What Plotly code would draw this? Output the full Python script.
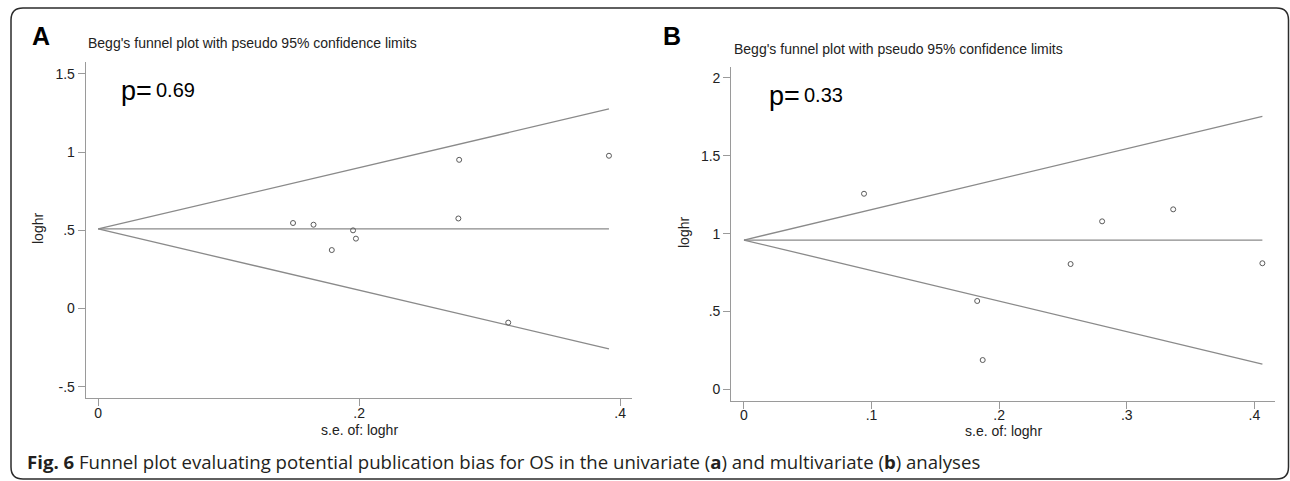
import plotly.graph_objects as go

W, H = 1290, 481

# ---------------- data ----------------
# Panel A (univariate)
se_a = [0.1493, 0.165, 0.179, 0.1953, 0.1975, 0.2766, 0.276, 0.3142, 0.3914]
loghr_a = [0.546, 0.535, 0.373, 0.499, 0.446, 0.950, 0.575, -0.091, 0.976]
funnel_se_a = [0.0, 0.3914]
funnel_mid_a = [0.508, 0.508]
funnel_up_a = [0.508, 1.275]
funnel_lo_a = [0.508, -0.259]
p_a = "0.69"

# Panel B (multivariate)
se_b = [0.0941, 0.1828, 0.1871, 0.256, 0.2807, 0.3364, 0.4063]
loghr_b = [1.256, 0.568, 0.189, 0.805, 1.079, 1.156, 0.810]
funnel_se_b = [0.0, 0.4063]
funnel_mid_b = [0.959, 0.959]
funnel_up_b = [0.959, 1.753]
funnel_lo_b = [0.959, 0.163]
p_b = "0.33"

xticks_a = [0, 0.2, 0.4]
xticklabels_a = ["0", ".2", ".4"]
yticks_a = [-0.5, 0, 0.5, 1, 1.5]
yticklabels_a = ["-.5", "0", ".5", "1", "1.5"]
xticks_b = [0, 0.1, 0.2, 0.3, 0.4]
xticklabels_b = ["0", ".1", ".2", ".3", ".4"]
yticks_b = [0, 0.5, 1, 1.5, 2]
yticklabels_b = ["0", ".5", "1", "1.5", "2"]

title_text = "Begg's funnel plot with pseudo 95% confidence limits"
caption = ("<b>Fig. 6</b> Funnel plot evaluating potential publication bias for OS in the "
           "univariate (<b>a</b>) and multivariate (<b>b</b>) analyses")

# ---------------- styling ----------------
LINE = "#8a8a8a"
AXIS = "#9a9a9a"
MARK = "#5a5a5a"
TXT = "#222222"
FONT = "Liberation Sans, Arial, sans-serif"


def px(x):
    return x / W


def py(y):
    return 1 - y / H


fig = go.Figure()

for (se, lh, fse, fm, fu, fl, xa, ya) in [
    (se_a, loghr_a, funnel_se_a, funnel_mid_a, funnel_up_a, funnel_lo_a, "x", "y"),
    (se_b, loghr_b, funnel_se_b, funnel_mid_b, funnel_up_b, funnel_lo_b, "x2", "y2"),
]:
    for yy in (fu, fm, fl):
        fig.add_trace(go.Scatter(x=fse, y=yy, mode="lines", xaxis=xa, yaxis=ya,
                                 line=dict(color=LINE, width=1.3),
                                 showlegend=False, hoverinfo="skip"))
    fig.add_trace(go.Scatter(x=se, y=lh, mode="markers", xaxis=xa, yaxis=ya,
                             marker=dict(symbol="circle-open", size=5, color=MARK,
                                         line=dict(color=MARK, width=1)),
                             showlegend=False))

axis_common = dict(showline=True, linecolor=AXIS, linewidth=1, mirror=False,
                   showgrid=False, zeroline=False, ticks="outside", ticklen=7,
                   tickcolor=AXIS, tickwidth=1,
                   tickfont=dict(family=FONT, size=14, color=TXT))
xaxis_extra = dict(ticklabelstandoff=-5)

fig.update_layout(
    width=W, height=H, autosize=False,
    margin=dict(l=0, r=0, t=0, b=0, pad=0),
    paper_bgcolor="white", plot_bgcolor="white",
    xaxis=dict(domain=[px(85.7), px(631.8)], range=[-0.00958, 0.4089],
               tickvals=xticks_a, ticktext=xticklabels_a, anchor="y",
               **axis_common, **xaxis_extra),
    yaxis=dict(domain=[py(397.8), py(62.3)], range=[-0.5716, 1.5735],
               tickvals=yticks_a, ticktext=yticklabels_a, anchor="x", **axis_common),
    xaxis2=dict(domain=[px(731.2), px(1274.5)], range=[-0.0100, 0.4158],
                tickvals=xticks_b, ticktext=xticklabels_b, anchor="y2",
                **axis_common, **xaxis_extra),
    yaxis2=dict(domain=[py(400.5), py(66.7)], range=[-0.0706, 2.0712],
                tickvals=yticks_b, ticktext=yticklabels_b, anchor="x2", **axis_common),
)

ann = []


def add_text(text, x, y, size, xanchor="left", yanchor="middle", angle=0, family=FONT, color=TXT):
    ann.append(dict(text=text, x=px(x), y=py(y), xref="paper", yref="paper",
                    xanchor=xanchor, yanchor=yanchor, showarrow=False, textangle=angle,
                    font=dict(family=family, size=size, color=color)))


# panel letters
add_text("<b>A</b>", 41, 36, 25, xanchor="center", color="#000000")
add_text("<b>B</b>", 672, 36, 25, xanchor="center", color="#000000")
# titles
add_text(title_text, 86, 43.3, 14)
add_text(title_text, 731.7, 49, 14)
# p values
add_text("p=", 119, 91, 27, color="#000000")
add_text(p_a, 154, 90.5, 20, color="#000000")
add_text("p=", 767, 96, 27, color="#000000")
add_text(p_b, 802, 95, 20, color="#000000")
# axis titles
add_text("loghr", 38, 229, 14, xanchor="center", angle=-90)
add_text("loghr", 684, 233, 14, xanchor="center", angle=-90)
add_text("s.e. of: loghr", 359, 429.5, 14, xanchor="center")
add_text("s.e. of: loghr", 1003.5, 430.5, 14, xanchor="center")
# caption
add_text(caption, 25, 461.7, 18.6, family="Open Sans, sans-serif", color="#231f20")

fig.update_layout(annotations=ann)

# rounded outer frame
L, T, R, B, r = 11, 8, 1288.5, 479, 12
path = (f"M {px(L)},{py(T + r)} Q {px(L)},{py(T)} {px(L + r)},{py(T)} "
        f"L {px(R - r)},{py(T)} Q {px(R)},{py(T)} {px(R)},{py(T + r)} "
        f"L {px(R)},{py(B - r)} Q {px(R)},{py(B)} {px(R - r)},{py(B)} "
        f"L {px(L + r)},{py(B)} Q {px(L)},{py(B)} {px(L)},{py(B - r)} Z")
fig.add_shape(type="path", path=path, xref="paper", yref="paper",
              line=dict(color="#2b2b2b", width=1.5))

fig.write_html("out.html", config={"displayModeBar": False},
               post_script="document.body.style.margin='0';document.body.style.padding='0';")
